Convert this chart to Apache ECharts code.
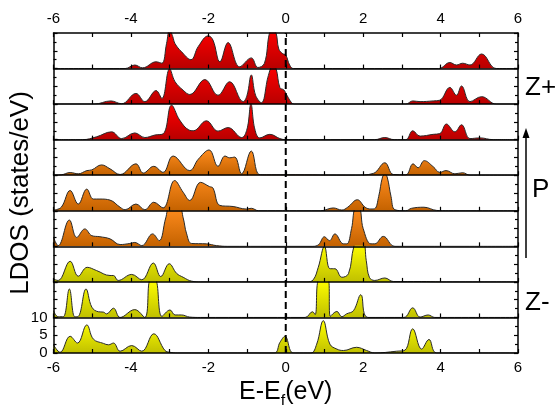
<!DOCTYPE html>
<html>
<head>
<meta charset="utf-8">
<script src="https://cdn.jsdelivr.net/npm/echarts@6/dist/echarts.min.js"></script>
<style>
  html, body { margin: 0; padding: 0; background: #fff; }
  #chart { width: 555px; height: 405px; }
</style>
</head>
<body>
<div id="chart"></div>
<script>
// LDOS per layer, top (Z+) to bottom (Z-), as [E - Ef (eV), states/eV]
const ldos1 = [[-6,0],[-4.15,0],[-3.9,1.0],[-3.7,0.2],[-3.35,1.9],[-3.2,1.5],[-3.08,7],[-3.0,11],[-2.92,9],[-2.86,7],[-2.69,4.7],[-2.45,2.5],[-2.26,6.2],[-2.0,9.2],[-1.88,8],[-1.7,1.9],[-1.49,7.3],[-1.19,0.5],[-0.89,3.0],[-0.72,0.3],[-0.55,1.5],[-0.42,10],[-0.33,11],[-0.25,10],[-0.18,5.5],[-0.08,4.2],[0.0,3.8],[0.1,1.0],[0.2,0],[3.95,0],[4.24,1.7],[4.41,1.0],[4.57,1.5],[4.76,1.0],[5.06,4.1],[5.44,0],[6,0]];
const ldos2 = [[-6,0],[-4.95,0],[-4.52,0.9],[-4.24,0.1],[-3.87,3.0],[-3.64,0.7],[-3.35,3.8],[-3.2,1.6],[-3.0,9.9],[-2.86,6.3],[-2.65,3.9],[-2.48,2.7],[-2.09,6.9],[-1.75,2.5],[-1.45,6.3],[-1.1,0.7],[-1.0,2.5],[-0.89,8.2],[-0.78,2.5],[-0.63,0.4],[-0.45,8],[-0.33,11],[-0.25,10],[-0.15,4.6],[-0.05,4.0],[0.03,2.5],[0.15,0.4],[0.22,0],[3.1,0],[3.28,0.9],[3.47,0.7],[3.81,0.9],[3.98,1.1],[4.24,4.7],[4.41,2.5],[4.54,5.1],[4.76,0.7],[5.06,2.1],[5.44,0],[6,0]];
const ldos3 = [[-6,0],[-5.25,0],[-4.89,0.8],[-4.5,2.2],[-4.24,0.3],[-3.9,1.9],[-3.64,0.6],[-3.38,1.3],[-3.16,1.7],[-2.95,9.7],[-2.74,5.5],[-2.5,2.7],[-2.39,2.5],[-2.05,5.3],[-1.75,2.4],[-1.49,3.4],[-1.14,0.6],[-1.0,3],[-0.9,10],[-0.8,3],[-0.67,0.5],[-0.41,1.5],[-0.15,0.3],[0,0],[2.3,0],[2.56,0.6],[2.8,0],[3.1,0],[3.28,2.5],[3.47,1.0],[3.81,1.5],[3.98,1.7],[4.15,4.4],[4.37,2.2],[4.54,4.2],[4.76,0.3],[5.02,0.5],[5.36,0],[6,0]];
const ldos4 = [[-6,0],[-5.8,0.1],[-5.57,0.75],[-5.36,0.4],[-5.14,1.3],[-5.01,1.5],[-4.76,2.9],[-4.54,1.8],[-4.28,0.2],[-3.87,3.2],[-3.68,0.6],[-3.41,2.5],[-3.17,0.8],[-2.91,5.4],[-2.48,1.3],[-2.26,4.5],[-1.98,7.1],[-1.75,2.5],[-1.57,5.4],[-1.45,4.9],[-1.32,5.1],[-1.14,0.4],[-0.89,6.8],[-0.69,0.2],[-0.5,0.1],[0,0.1],[1.8,0],[2.26,0.5],[2.56,3.5],[2.78,0.2],[3.1,0.1],[3.29,3.2],[3.42,2.1],[3.58,4.1],[3.81,2.4],[3.98,0.8],[4.14,1.3],[4.37,0.4],[4.57,0.7],[4.76,0],[6,0]];
const ldos5 = [[-6,0.2],[-5.8,1.0],[-5.57,5.7],[-5.36,1.9],[-5.14,6.1],[-4.97,3.3],[-4.8,3.3],[-4.54,3.0],[-4.28,1.0],[-4.15,0.3],[-3.87,1.9],[-3.64,0.3],[-3.41,2.4],[-3.17,0.8],[-2.87,8.5],[-2.65,5.2],[-2.48,2.9],[-2.2,8.0],[-1.97,6.8],[-1.88,6.4],[-1.7,1.5],[-1.36,1.2],[-1.02,0.5],[-0.89,0.7],[-0.7,0],[0.9,0],[1.23,0.8],[1.45,0.2],[1.6,1.0],[1.85,3.1],[2.05,1.0],[2.2,0.5],[2.3,0.6],[2.4,4],[2.5,9.5],[2.56,10.2],[2.62,9.5],[2.72,4],[2.82,0.3],[3.1,0],[3.25,0.7],[3.57,1.0],[3.9,0.1],[4.2,0],[6,0]];
const ldos6 = [[-6,2.5],[-5.88,0.2],[-5.59,7.4],[-5.4,2.5],[-5.19,4.9],[-5.01,3.0],[-4.8,2.7],[-4.54,2.1],[-4.28,0.5],[-4.03,0.8],[-3.9,1.1],[-3.72,0.2],[-3.44,3.5],[-3.27,1.6],[-3.1,8],[-3.0,11],[-2.75,11],[-2.65,8],[-2.56,3.5],[-2.43,0.8],[-2.05,0.7],[-1.79,0.2],[-1.5,0],[0.7,0],[0.85,0.5],[1.0,2.7],[1.13,1.6],[1.27,3.5],[1.49,0.7],[1.58,0.7],[1.7,5],[1.8,10.5],[1.9,10.5],[2.0,5],[2.2,0.7],[2.3,0.7],[2.52,2.8],[2.82,0],[6,0]];
const ldos7 = [[-6,0.8],[-5.88,0.4],[-5.57,5.8],[-5.36,1.6],[-5.13,4.1],[-4.89,3.2],[-4.54,1.8],[-4.45,1.8],[-4.33,0.4],[-3.98,2.1],[-3.72,0.6],[-3.42,5.3],[-3.23,1.5],[-3.01,5.1],[-2.82,2.4],[-2.65,1.3],[-2.43,0.2],[-2.2,0],[0.55,0],[0.71,0.6],[0.84,4.1],[1.0,10],[1.14,3.7],[1.27,3.7],[1.45,1.3],[1.62,2.3],[1.76,10],[1.85,11],[2.0,11],[2.08,6],[2.16,1.3],[2.3,0.4],[2.56,1.1],[2.78,0.1],[3.5,0.1],[4.0,0],[6,0]];
const ldos8 = [[-6,1.9],[-5.88,0.2],[-5.75,0.2],[-5.59,8.0],[-5.45,0.2],[-5.36,0.3],[-5.16,8.0],[-5.01,2.9],[-4.84,1.6],[-4.71,1.5],[-4.63,1.0],[-4.45,2.6],[-4.28,0],[-3.9,2.2],[-3.64,0],[-3.5,10.5],[-3.37,10.5],[-3.2,0.3],[-2.99,2.1],[-2.86,0.7],[-2.69,0.7],[-2.48,0.1],[-2.2,0],[0.5,0],[0.69,1.6],[0.76,0.8],[0.86,10.5],[1.1,10.5],[1.15,0.3],[1.32,1.7],[1.45,0.2],[1.57,1.0],[1.75,1.9],[1.94,6.4],[2.12,0],[3.05,0],[3.28,2.7],[3.47,0.1],[3.68,0.7],[3.85,0],[6,0]];
const ldos9 = [[-6,2.3],[-5.83,0.2],[-5.57,4.7],[-5.38,2.8],[-5.14,7.9],[-4.97,3.9],[-4.71,2.7],[-4.58,2.3],[-4.45,2.8],[-4.28,0.5],[-3.98,2.1],[-3.72,0.5],[-3.41,5.4],[-3.12,0.7],[-2.99,0.2],[-2.8,0],[-0.3,0],[-0.15,3.0],[-0.02,4.7],[0.15,0.2],[0.25,0],[0.65,0],[0.8,2.5],[0.97,9.1],[1.14,2.5],[1.32,1.1],[1.49,0.7],[1.83,1.6],[2.09,0.7],[2.3,0],[2.86,0.5],[3.08,0.8],[3.28,6.8],[3.51,1.1],[3.7,3.8],[3.9,0],[6,0]];

const layers = [ldos1, ldos2, ldos3, ldos4, ldos5, ldos6, ldos7, ldos8, ldos9];
const energyTicks = [-6, 6, 2];   // min, max, step
const ldosTicks = [0, 10, 5];

// fill colour (top, bottom of gradient) for each layer
const fills = [
  ["#ff0000", "#b80000"], ["#ff0000", "#b80000"], ["#ff0000", "#b80000"],
  ["#ff8c1e", "#c46200"], ["#ff8c1e", "#c46200"], ["#ff8c1e", "#c46200"],
  ["#ffff00", "#c0c000"], ["#ffff00", "#c0c000"], ["#ffff00", "#c0c000"],
];

const chart = echarts.init(document.getElementById("chart"));

const FONT = "Liberation Sans";
const plotLeft = 53.5;
const plotRight = 37;
const plotTop = 33;
const plotBottom = 52;
const panelH = (405 - plotTop - plotBottom) / layers.length;
const black = { color: "#000", width: 1.5 };

let grid = [];
let xAxis = [];
let yAxis = [];
let series = [];

layers.forEach((data, i) => {
  grid.push({
    left: plotLeft,
    right: plotRight,
    top: plotTop + i * panelH,
    height: panelH,
    outerBoundsMode: "none",
  });
  xAxis.push({
    gridIndex: i,
    type: "value",
    min: energyTicks[0],
    max: energyTicks[1],
    interval: energyTicks[2],
    z: 10,
    axisLine: { onZero: false, lineStyle: black },
    axisTick: { inside: true, length: 4, lineStyle: { color: "#000", width: 1.2 } },
    minorTick: { show: true, splitNumber: 2, length: 4, lineStyle: { color: "#000", width: 1.2 } },
    axisLabel: { show: false },
    splitLine: { show: false },
  });
  ["left", "right"].forEach((pos) => {
    yAxis.push({
      gridIndex: i,
      type: "value",
      position: pos,
      min: ldosTicks[0],
      max: ldosTicks[1],
      interval: ldosTicks[2],
      z: 10,
      axisLine: { show: true, onZero: false, lineStyle: black },
      axisTick: { inside: true, length: 4, lineStyle: { color: "#000", width: 1.2 } },
      minorTick: { show: true, splitNumber: 2, length: 3, lineStyle: { color: "#000", width: 1.2 } },
      axisLabel: {
        show: pos === "left" && i === layers.length - 1,
        margin: 6,
        fontSize: 15,
        fontFamily: FONT,
        color: "#000",
      },
      splitLine: { show: false },
    });
  });
  series.push({
    type: "line",
    xAxisIndex: i,
    yAxisIndex: 2 * i,
    data: data,
    smooth: 0.4,
    showSymbol: false,
    symbol: "none",
    clip: true,
    silent: true,
    lineStyle: { color: "#2a2a2a", width: 1 },
    areaStyle: {
      opacity: 1,
      color: new echarts.graphic.LinearGradient(0, 0, 0, 1, [
        { offset: 0, color: fills[i][0] },
        { offset: 1, color: fills[i][1] },
      ]),
    },
    z: 2,
  });
});

// overlay grid over the whole stack: top/bottom labels, titles, Fermi level
const ov = layers.length;
grid.push({ left: plotLeft, right: plotRight, top: plotTop, bottom: plotBottom, outerBoundsMode: "none" });
xAxis.push({
  gridIndex: ov,
  type: "value",
  position: "top",
  min: energyTicks[0],
  max: energyTicks[1],
  interval: energyTicks[2],
  z: 10,
  axisLine: { onZero: false, lineStyle: black },
  axisTick: { inside: true, length: 4, lineStyle: { color: "#000", width: 1.2 } },
  minorTick: { show: true, splitNumber: 2, length: 4, lineStyle: { color: "#000", width: 1.2 } },
  axisLabel: { margin: 7, fontSize: 15, fontFamily: FONT, color: "#000" },
  splitLine: { show: false },
});
xAxis.push({
  gridIndex: ov,
  type: "value",
  position: "bottom",
  min: energyTicks[0],
  max: energyTicks[1],
  interval: energyTicks[2],
  axisLine: { show: false, onZero: false },
  axisTick: { show: false },
  axisLabel: { margin: 7, fontSize: 15, fontFamily: FONT, color: "#000" },
  splitLine: { show: false },
  name: "{m|E-E}{s|f}{m|(eV)}",
  nameLocation: "middle",
  nameGap: 20,
  nameTextStyle: {
    rich: {
      m: { fontSize: 25, fontFamily: FONT, color: "#000", lineHeight: 20, verticalAlign: "top" },
      s: { fontSize: 16, fontFamily: FONT, color: "#000", lineHeight: 30, verticalAlign: "bottom" },
    },
  },
});
yAxis.push({
  gridIndex: ov,
  type: "value",
  min: 0,
  max: 1,
  axisLine: { show: false, onZero: false },
  axisTick: { show: false },
  axisLabel: { show: false },
  splitLine: { show: false },
  name: "LDOS (states/eV)",
  nameLocation: "middle",
  nameGap: 20,
  nameTextStyle: { fontSize: 26, fontFamily: FONT, color: "#000" },
});
series.push({
  type: "line",
  xAxisIndex: ov + 1,
  yAxisIndex: 2 * ov,
  data: [[0, 0], [0, 1]],
  showSymbol: false,
  symbol: "none",
  silent: true,
  lineStyle: { color: "#000", width: 2, type: [7, 4] },
  z: 20,
});

const option = {
  animation: false,
  textStyle: { fontFamily: FONT },
  grid: grid,
  xAxis: xAxis,
  yAxis: yAxis,
  series: series,
  graphic: [
    { type: "line", shape: { x1: 526, y1: 258, x2: 526, y2: 136 }, style: { stroke: "#000", lineWidth: 1.5 } },
    { type: "polygon", shape: { points: [[526, 128], [522.5, 138], [529.5, 138]] }, style: { fill: "#000" } },
    { type: "text", x: 525, y: 88, style: { text: "Z+", fontSize: 26, fontFamily: FONT, fill: "#000", verticalAlign: "middle" } },
    { type: "text", x: 532, y: 190, style: { text: "P", fontSize: 26, fontFamily: FONT, fill: "#000", verticalAlign: "middle" } },
    { type: "text", x: 525, y: 303, style: { text: "Z-", fontSize: 26, fontFamily: FONT, fill: "#000", verticalAlign: "middle" } },
  ],
};

chart.setOption(option);
</script>
</body>
</html>
